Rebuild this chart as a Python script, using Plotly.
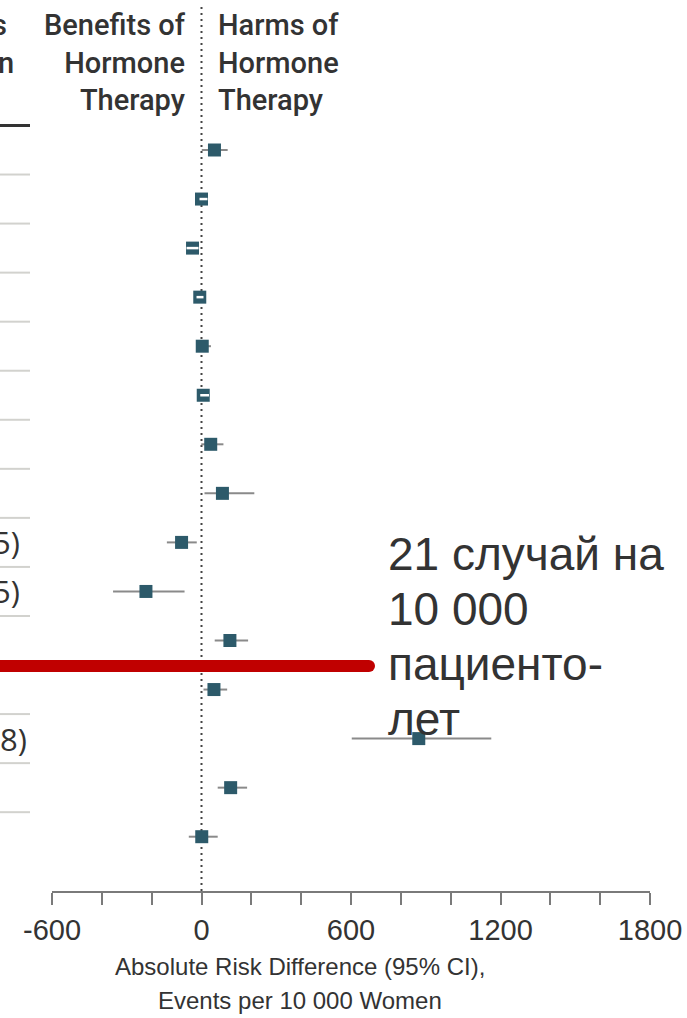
import plotly.graph_objects as go

# Absolute risk difference per 10 000 women (point estimate, 95% CI), one row per outcome
rows = list(range(1, 16))
est = [52, 0, -36, -7, 3, 7, 37, 84, -80, -223, 114, 50, 872, 117, 1]
ci_lo = [1, -8, -60, -20, -10, -5, -1, 12, -139, -355, 53, 8, 603, 65, -51]
ci_hi = [105, 24, -12, 8, 38, 30, 88, 212, -19, -68, 187, 103, 1163, 183, 65]

x_ticks = list(range(-600, 1801, 200))
x_tick_text = [str(v) if v % 600 == 0 else "" for v in x_ticks]

benefit_header = "Benefits of<br>Hormone<br>Therapy"
harm_header = "Harms of<br>Hormone<br>Therapy"
axis_title = ["Absolute Risk Difference (95% CI),", "Events per 10 000 Women"]
callout = ["21 случай на", "10 000", "пациенто-", "лет"]

W, H = 687, 1018
ML, MR, MT, MB = 52, 37, 5, 127
PW, PH = W - ML - MR, H - MT - MB
ROW0_PX, ROW_STEP = 150.0, 49.05


def fx(px):
    return (px - ML) / PW


def fy(py):
    return (H - MB - py) / PH


def row_of(py):
    return 1 + (py - ROW0_PX) / ROW_STEP


MARK = "#2D5A6A"
half_mark_units = 26  # half of the 13 px square, in axis units

gray_x, gray_y, white_x, white_y = [], [], [], []
for r, e, lo, hi in zip(rows, est, ci_lo, ci_hi):
    if lo >= e - half_mark_units and hi <= e + half_mark_units:
        white_x += [lo, hi, None]
        white_y += [r, r, None]
    else:
        gray_x += [lo, hi, None]
        gray_y += [r, r, None]

fig = go.Figure()
fig.add_trace(go.Scatter(x=gray_x, y=gray_y, mode="lines",
                         line=dict(color="#8A8A8A", width=2), hoverinfo="skip"))
fig.add_trace(go.Scatter(x=est, y=rows, mode="markers",
                         marker=dict(symbol="square", size=13, color=MARK,
                                     line=dict(width=0))))
fig.add_trace(go.Scatter(x=white_x, y=white_y, mode="lines",
                         line=dict(color="white", width=2.5), hoverinfo="skip"))

shapes = []
# dotted no-effect line at 0
shapes.append(dict(type="line", xref="x", yref="paper", x0=0, x1=0, y0=0, y1=1,
                   line=dict(color="#444444", width=2, dash="2px,4px"), layer="below"))
# table rules at the left edge
shapes.append(dict(type="line", xref="paper", yref="y", x0=fx(0), x1=fx(30),
                   y0=0.5, y1=0.5, line=dict(color="#333333", width=3)))
for k in range(14):
    yb = 1.5 + k
    shapes.append(dict(type="line", xref="paper", yref="y", x0=fx(0), x1=fx(30),
                       y0=yb, y1=yb, line=dict(color="#D2D2CE", width=2)))
# red pointer bar with rounded tip
red_y = row_of(666)
shapes.append(dict(type="line", xref="paper", yref="y", x0=fx(0), x1=fx(369),
                   y0=red_y, y1=red_y, line=dict(color="#C00000", width=12), layer="above"))
shapes.append(dict(type="circle", xref="paper", yref="y", xsizemode="pixel", ysizemode="pixel",
                   xanchor=fx(369), yanchor=red_y, x0=-6, x1=6, y0=-6, y1=6,
                   fillcolor="#C00000", line=dict(width=0), layer="above"))

HEAD_FONT = dict(family="Roboto, Liberation Sans, sans-serif", size=29, color="#333333", weight=500)
TXT = "#333333"
annotations = [
    dict(text=benefit_header, xref="paper", yref="paper", x=fx(188), y=fy(6),
         xanchor="right", yanchor="top", align="right", showarrow=False, font=HEAD_FONT),
    dict(text=harm_header, xref="paper", yref="paper", x=fx(216), y=fy(6),
         xanchor="left", yanchor="top", align="left", showarrow=False, font=HEAD_FONT),
    dict(text="s", xref="paper", yref="paper", x=fx(9), y=fy(6),
         xanchor="right", yanchor="top", showarrow=False, font=HEAD_FONT),
    dict(text="n", xref="paper", yref="paper", x=fx(16), y=fy(44),
         xanchor="right", yanchor="top", showarrow=False, font=HEAD_FONT),
]
TABLE_FONT = dict(family="Open Sans, sans-serif", size=31, color=TXT)
for r, txt, right_px in [(9, "5)", 22), (10, "5)", 22), (13, "8)", 29)]:
    annotations.append(dict(text=txt, xref="paper", yref="y", x=fx(right_px), y=r,
                            xanchor="right", yanchor="middle", showarrow=False,
                            font=TABLE_FONT))
for i, line in enumerate(callout):
    annotations.append(dict(text=line, xref="paper", yref="paper", x=fx(386),
                            y=fy(554 + 55 * i), xanchor="left", yanchor="middle",
                            showarrow=False,
                            font=dict(family="Liberation Sans, Arial, sans-serif",
                                      size=46, color="#333333")))
TITLE_FONT = dict(family="Liberation Sans, sans-serif", size=24, color=TXT)
for i, line in enumerate(axis_title):
    annotations.append(dict(text=line, xref="paper", yref="paper", x=fx(300),
                            y=fy(966 + 34 * i), xanchor="center", yanchor="middle",
                            showarrow=False, font=TITLE_FONT))

fig.update_layout(
    width=W, height=H,
    margin=dict(l=ML, r=MR, t=MT, b=MB),
    paper_bgcolor="white", plot_bgcolor="white",
    showlegend=False,
    shapes=shapes,
    annotations=annotations,
    xaxis=dict(range=[-600, 1800], tickvals=x_ticks, ticktext=x_tick_text,
               showgrid=False, zeroline=False, showline=True, linecolor="#7A7A7A",
               linewidth=2, ticks="outside", ticklen=12, tickcolor="#7A7A7A",
               tickwidth=1.5,
               tickfont=dict(family="Liberation Sans, sans-serif",
                             size=29, color=TXT)),
    yaxis=dict(range=[row_of(H - MB), row_of(MT)], visible=False),
)

fig.write_html("out.html")
